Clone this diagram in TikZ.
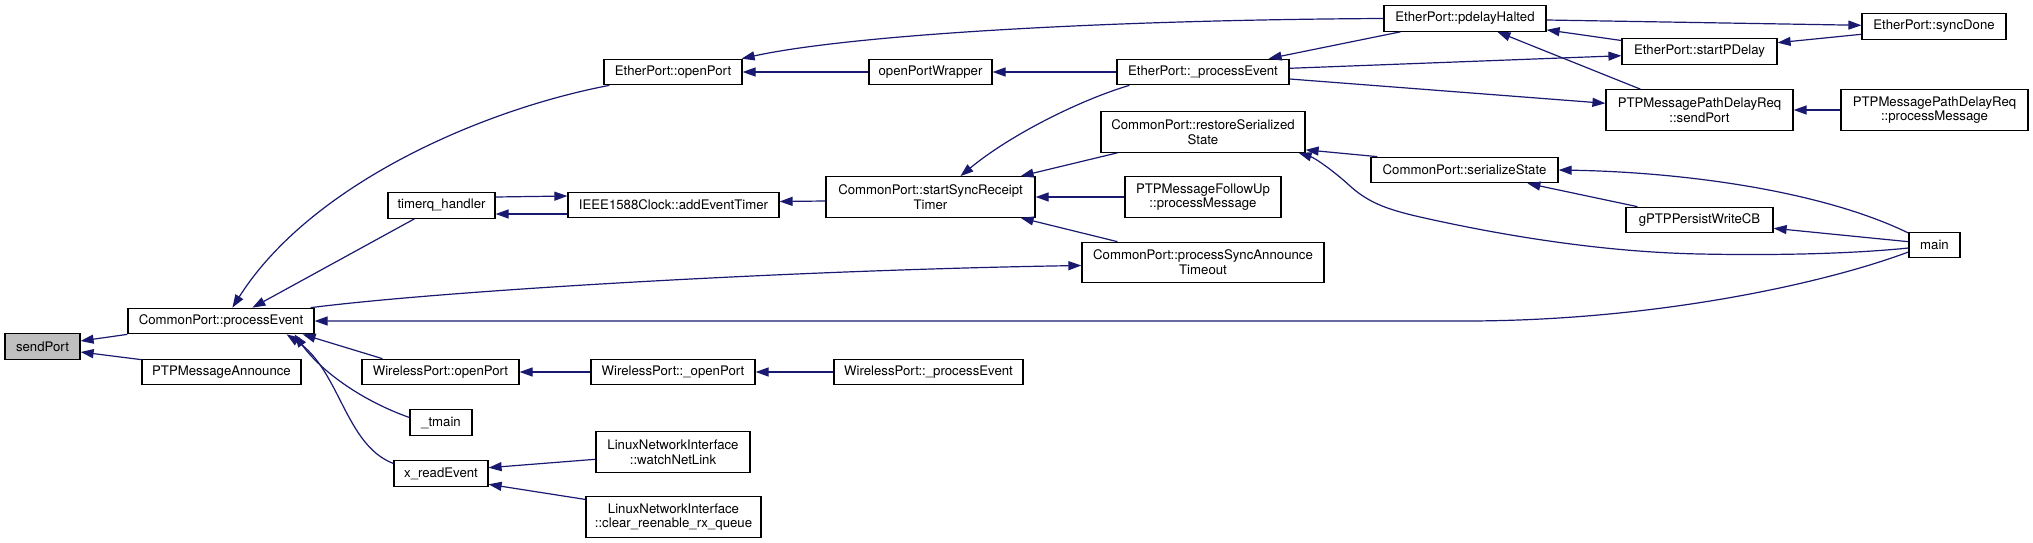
\documentclass[tikz,border=0pt]{standalone}
\usepackage{fontspec}
\setmainfont{TeX Gyre Heros}
\usetikzlibrary{arrows.meta,calc}
\definecolor{edgec}{HTML}{191970}
\definecolor{hl}{HTML}{BFBFBF}
\begin{document}
\begin{tikzpicture}[x=1pt,y=-1pt,
  box/.style={draw=black, line width=1.2pt, fill=white, inner sep=0pt, align=center,
    font=\fontsize{13.2}{14.7}\selectfont},
  bone/.style={box, minimum height=25.5pt},
  btwo/.style={box, minimum height=40.5pt},
  edge/.style={draw=edgec, line width=1.2pt},
  >={Triangle[length=13pt,width=9pt]}]
\fill[white] (0,0) rectangle (2033,543);
\useasboundingbox (0,0) rectangle (2033,543);

% nodes
\node[bone, fill=hl, minimum width=75pt] (sp) at (42.5,346.5) {sendPort};
\node[bone, minimum width=186pt] (pe) at (221,321) {CommonPort::processEvent};
\node[bone, minimum width=159pt] (pma) at (221.5,372) {PTPMessageAnnounce};
\node[bone, minimum width=138pt] (eop) at (673,72) {EtherPort::openPort};
\node[bone, minimum width=107pt] (tq) at (441.5,205.5) {timerq\_handler};
\node[bone, minimum width=157pt] (wop) at (440.5,372) {WirelessPort::openPort};
\node[bone, minimum width=62pt] (tm) at (441,422.5) {\_tmain};
\node[bone, minimum width=94pt] (xr) at (441,473.5) {x\_readEvent};
\node[bone, minimum width=123pt] (opw) at (930.5,72) {openPortWrapper};
\node[bone, minimum width=211pt] (aet) at (673.5,205) {IEEE1588Clock::addEventTimer};
\node[bone, minimum width=164pt] (wuop) at (673,372) {WirelessPort::\_openPort};
\node[btwo, minimum width=154pt] (wnl) at (673,452) {LinuxNetworkInterface\\::watchNetLink};
\node[btwo, minimum width=175pt] (crq) at (673.5,517) {LinuxNetworkInterface\\::clear\_reenable\_rx\_queue};
\node[bone, minimum width=172pt] (epe) at (1203,72) {EtherPort::\_processEvent};
\node[btwo, minimum width=209pt] (ssr) at (930.5,197) {CommonPort::startSyncReceipt\\Timer};
\node[bone, minimum width=189pt] (wpe) at (928.5,372) {WirelessPort::\_processEvent};
\node[btwo, minimum width=204pt] (rss) at (1203,132) {CommonPort::restoreSerialized\\State};
\node[btwo, minimum width=156pt] (fu) at (1203,197) {PTPMessageFollowUp\\::processMessage};
\node[btwo, minimum width=242pt] (psa) at (1203,262.5) {CommonPort::processSyncAnnounce\\Timeout};
\node[bone, minimum width=162pt] (pdh) at (1465,18.5) {EtherPort::pdelayHalted};
\node[bone, minimum width=187pt] (ss) at (1464.5,170) {CommonPort::serializeState};
\node[bone, minimum width=155pt] (spd) at (1699.5,51.5) {EtherPort::startPDelay};
\node[btwo, minimum width=187pt] (pdr) at (1699.5,110) {PTPMessagePathDelayReq\\::sendPort};
\node[bone, minimum width=147pt] (gcb) at (1699.5,220) {gPTPPersistWriteCB};
\node[bone, minimum width=144pt] (sd) at (1934,26.5) {EtherPort::syncDone};
\node[btwo, minimum width=187pt] (pm) at (1934.5,110) {PTPMessagePathDelayReq\\::processMessage};
\node[bone, minimum width=51pt] (mn) at (1934.5,245) {main};

% edges
\draw[edge,<-] ($(sp.east)+(0,-5.5)$) -- (pe.south west);
\draw[edge,<-] ($(sp.east)+(0,5.5)$) -- ($(pma.north west)+(0,1)$);
\draw[edge,<-] ($(pe.north west)+(105,0)$) .. controls (310,185) and (480,110) .. ($(eop.south west)+(6,0)$);
\draw[edge,<-] ($(pe.north west)+(125,0)$) -- ($(tq.south west)+(27,0)$);
\draw[edge,->] ($(pe.north east)+(-4,0)$) .. controls (450,290) and (800,270) .. ($(psa.west)+(0,3)$);
\draw[edge,<-] (pe.east) -- (1465,321) .. controls (1650,321) and (1820,285) .. ($(mn.west)+(0,7)$);
\draw[edge,<-] ($(pe.south east)+(-12,0)$) -- ($(wop.north west)+(21,0)$);
\draw[edge,<-] ($(pe.south east)+(-20,0)$) .. controls (320,370) and (360,400) .. ($(tm.west)+(0,-5)$);
\draw[edge,<-] ($(pe.south east)+(-28,0)$) .. controls (340,370) and (345,445) .. ($(xr.west)+(0,-10)$);
\draw[edge,<-] (eop.east) -- (opw.west);
\draw[edge,<-] ($(eop.north east)+(-1,0)$) .. controls (850,35) and (1100,20) .. (pdh.west);
\draw[edge,->] ($(tq.east)+(0,-8.5)$) -- ($(aet.west)+(0,-9)$);
\draw[edge,->] ($(aet.west)+(0,9)$) -- ($(tq.east)+(0,8.5)$);
\draw[edge,<-] ($(aet.east)+(0,-3.5)$) -- ($(ssr.west)+(0,4)$);
\draw[edge,<-] ($(ssr.north west)+(135,0)$) .. controls (1010,135) and (1080,100) .. ($(epe.south west)+(13,0)$);
\draw[edge,<-] ($(ssr.north east)+(-15,0)$) -- ($(rss.south west)+(17,0)$);
\draw[edge,<-] (ssr.east) -- (fu.west);
\draw[edge,<-] ($(ssr.south east)+(-15,0)$) -- ($(psa.north west)+(36,0)$);
\draw[edge,<-] (opw.east) -- (epe.west);
\draw[edge,<-] ($(epe.north east)+(-21,0)$) -- ($(pdh.south west)+(17,0)$);
\draw[edge,->] ($(epe.east)+(0,-3.7)$) -- ($(spd.west)+(0,4.2)$);
\draw[edge,->] ($(epe.east)+(0,7)$) -- ($(pdr.west)+(0,-6.7)$);
\draw[edge,<-] ($(pdh.south east)+(0,-2)$) -- ($(spd.west)+(0,-11)$);
\draw[edge,->] ($(pdh.east)+(0,1.5)$) -- ($(sd.west)+(0,-1.2)$);
\draw[edge,<-] ($(spd.east)+(0,-8.8)$) -- ($(sd.west)+(0,7.8)$);
\draw[edge,<-] ($(pdh.south west)+(114,0)$) -- ($(pdr.north west)+(35,0)$);
\draw[edge,<-] (pdr.east) -- (pm.west);
\draw[edge,<-] ($(rss.south east)+(0,-3)$) -- ($(ss.north west)+(7,0)$);
\draw[edge,<-] ($(rss.south east)+(-7,0)$) .. controls (1315,158) and (1335,172) .. (1350,186)
  .. controls (1370,204) and (1390,210) .. (1420,217)
  .. controls (1500,235) and (1600,252) .. (1700,254)
  .. controls (1800,256) and (1870,252) .. ($(mn.west)+(0,3)$);
\draw[edge,<-] (ss.east) .. controls (1680,172) and (1820,190) .. ($(mn.west)+(0,-12)$);
\draw[edge,<-] ($(ss.south west)+(157,0)$) -- ($(gcb.north west)+(12,0)$);
\draw[edge,<-] ($(gcb.east)+(0,8.3)$) -- ($(mn.west)+(0,-3.3)$);
\draw[edge,<-] (wop.east) -- (wuop.west);
\draw[edge,<-] (wuop.east) -- (wpe.west);
\draw[edge,<-] ($(xr.east)+(0,-5.8)$) -- ($(wnl.west)+(0,7.3)$);
\draw[edge,<-] ($(xr.east)+(0,10.8)$) -- ($(crq.north west)+(0,3.3)$);
\end{tikzpicture}
\end{document}
